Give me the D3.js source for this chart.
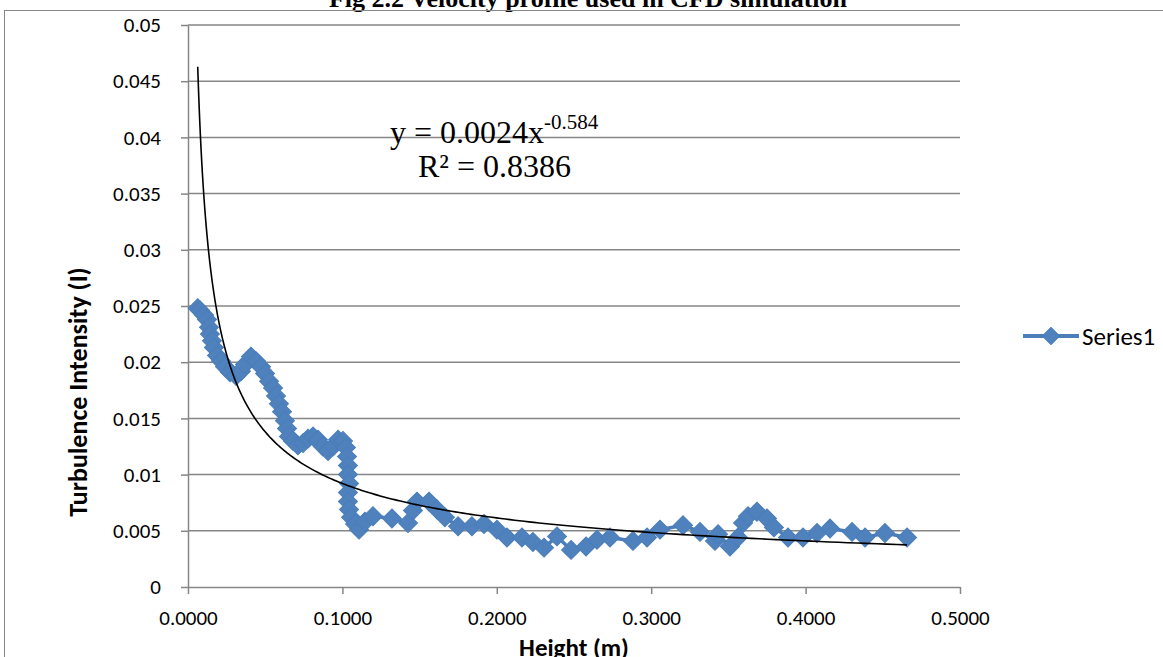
<!DOCTYPE html>
<html>
<head>
<meta charset="utf-8">
<script src="https://cdn.jsdelivr.net/npm/d3@7"></script>
<style>
  html, body { margin: 0; padding: 0; background: #fff; }
  svg { display: block; }
</style>
</head>
<body>
<svg id="chart" width="1163" height="657"></svg>
<script>
// ---- data ----
const heights = [0.0063, 0.0078, 0.0104, 0.0123, 0.0136, 0.0142, 0.0155, 0.0168, 0.0188, 0.0214,
  0.0240, 0.0272, 0.0311, 0.0343, 0.0369, 0.0408, 0.0440, 0.0473, 0.0499, 0.0525,
  0.0551, 0.0570, 0.0589, 0.0609, 0.0628, 0.0641, 0.0654, 0.0680, 0.0712, 0.0745,
  0.0777, 0.0810, 0.0842, 0.0874, 0.0907, 0.0939, 0.0972, 0.1004, 0.1023, 0.1030,
  0.1036, 0.1036, 0.1043, 0.1036, 0.1036, 0.1043, 0.1056, 0.1082, 0.1108, 0.1146,
  0.1198, 0.1321, 0.1425, 0.1457, 0.1483, 0.1561, 0.1613, 0.1664, 0.1749, 0.1839,
  0.1917, 0.2001, 0.2066, 0.2163, 0.2234, 0.2306, 0.2390, 0.2481, 0.2578, 0.2649,
  0.2733, 0.2882, 0.2973, 0.3057, 0.3206, 0.3316, 0.3413, 0.3433, 0.3510, 0.3562,
  0.3595, 0.3627, 0.3685, 0.3750, 0.3795, 0.3886, 0.3983, 0.4074, 0.4158, 0.4301,
  0.4385, 0.4514, 0.4657];
const intensities = [0.0248, 0.0246, 0.0242, 0.0238, 0.0231, 0.0225, 0.0219, 0.0213, 0.0206, 0.0201,
  0.0196, 0.0191, 0.0188, 0.0192, 0.0198, 0.0205, 0.0201, 0.0196, 0.0190, 0.0183,
  0.0177, 0.0170, 0.0163, 0.0156, 0.0148, 0.0141, 0.0134, 0.0130, 0.0126, 0.0128,
  0.0132, 0.0134, 0.0131, 0.0125, 0.0121, 0.0125, 0.0131, 0.0130, 0.0124, 0.0116,
  0.0108, 0.0100, 0.0092, 0.0084, 0.0076, 0.0069, 0.0062, 0.0056, 0.0051, 0.0058,
  0.0063, 0.0061, 0.0057, 0.0068, 0.0076, 0.0076, 0.0069, 0.0062, 0.0054, 0.0054,
  0.0056, 0.0051, 0.0044, 0.0044, 0.0040, 0.0035, 0.0045, 0.0033, 0.0036, 0.0042,
  0.0044, 0.0041, 0.0044, 0.0051, 0.0055, 0.0049, 0.0041, 0.0047, 0.0036, 0.0044,
  0.0057, 0.0063, 0.0067, 0.0061, 0.0053, 0.0044, 0.0044, 0.0048, 0.0052, 0.0049,
  0.0044, 0.0048, 0.0044];
const seriesName = "Series1";
const yTickValues = [0, 0.005, 0.01, 0.015, 0.02, 0.025, 0.03, 0.035, 0.04, 0.045, 0.05];
const yTickLabels = ["0", "0.005", "0.01", "0.015", "0.02", "0.025", "0.03", "0.035", "0.04", "0.045", "0.05"];
const xTickValues = [0, 0.1, 0.2, 0.3, 0.4, 0.5];
const xTickLabels = ["0.0000", "0.1000", "0.2000", "0.3000", "0.4000", "0.5000"];
const trendCoef = 0.0024;
const trendExp = -0.584;
const rSquared = "0.8386";
const titleText = "Fig 2.2 Velocity profile used in CFD simulation";
const xTitle = "Height (m)";
const yTitle = "Turbulence Intensity (I)";

// ---- layout ----
const svg = d3.select("#chart");
const plot = { left: 188, right: 960, top: 25, bottom: 587 };
const x = d3.scaleLinear().domain([0, 0.5]).range([plot.left, plot.right]);
const y = d3.scaleLinear().domain([0, 0.05]).range([plot.bottom, plot.top]);
const uiFont = "Carlito, Lato, 'Liberation Sans', sans-serif";
const serif = "'Liberation Serif', 'Times New Roman', serif";
const gridColor = "#868686";
const blue = "#4A7EBB";

// title (clipped at top like the reference)
svg.append("text")
  .attr("x", 588).attr("y", 7)
  .attr("text-anchor", "middle")
  .attr("font-family", serif)
  .attr("font-weight", "bold").attr("font-size", 26)
  .text(titleText);

// chart frame
svg.append("rect")
  .attr("x", 4.5).attr("y", 10.5).attr("width", 1200).attr("height", 700)
  .attr("fill", "none").attr("stroke", gridColor).attr("stroke-width", 1);

// horizontal gridlines
svg.append("g").selectAll("line").data(yTickValues.slice(1)).join("line")
  .attr("x1", plot.left).attr("x2", plot.right)
  .attr("y1", d => y(d)).attr("y2", d => y(d))
  .attr("stroke", gridColor).attr("stroke-width", 1.5);

// y axis
const yAxis = d3.axisLeft(y).tickValues(yTickValues)
  .tickFormat((d, i) => yTickLabels[i]).tickSize(7).tickSizeOuter(0).tickPadding(20);
const gy = svg.append("g").attr("transform", `translate(${plot.left},0)`).call(yAxis);
gy.select(".domain").attr("stroke", gridColor).attr("stroke-width", 1.5);
gy.selectAll(".tick line").attr("stroke", gridColor).attr("stroke-width", 1.5);
gy.selectAll(".tick text").attr("font-family", uiFont).attr("font-size", 21).attr("fill", "#000");

// x axis
const xAxis = d3.axisBottom(x).tickValues(xTickValues)
  .tickFormat((d, i) => xTickLabels[i]).tickSize(7).tickSizeOuter(0).tickPadding(16);
const gx = svg.append("g").attr("transform", `translate(0,${plot.bottom})`).call(xAxis);
gx.select(".domain").attr("stroke", gridColor).attr("stroke-width", 1.5);
gx.selectAll(".tick line").attr("stroke", gridColor).attr("stroke-width", 1.5);
gx.selectAll(".tick text").attr("font-family", uiFont).attr("font-size", 21).attr("fill", "#000");

// axis titles
svg.append("text")
  .attr("x", 574).attr("y", 656)
  .attr("text-anchor", "middle")
  .attr("font-family", uiFont).attr("font-weight", "bold").attr("font-size", 25)
  .text(xTitle);
svg.append("text")
  .attr("transform", "translate(87,392) rotate(-90)")
  .attr("text-anchor", "middle")
  .attr("font-family", uiFont).attr("font-weight", "bold").attr("font-size", 26)
  .text(yTitle);

// data series
const pts = heights.map((h, i) => [h, intensities[i]]);
svg.append("path")
  .datum(pts)
  .attr("fill", "none").attr("stroke", blue).attr("stroke-width", 3.5)
  .attr("stroke-linejoin", "round")
  .attr("d", d3.line().x(d => x(d[0])).y(d => y(d[1])));
svg.append("g").selectAll("path").data(pts).join("path")
  .attr("transform", d => `translate(${x(d[0])},${y(d[1])}) rotate(45)`)
  .attr("d", d3.symbol().type(d3.symbolSquare).size(180))
  .attr("fill", "#4F81BD").attr("stroke", blue).attr("stroke-width", 1);

// power trendline (from the displayed fitted equation)
const xMin = d3.min(heights), xMax = d3.max(heights);
const trendPts = d3.range(0, 301).map(i => {
  const t = xMin * Math.pow(xMax / xMin, i / 300);
  return [t, trendCoef * Math.pow(t, trendExp)];
});
svg.append("path")
  .datum(trendPts)
  .attr("fill", "none").attr("stroke", "#000").attr("stroke-width", 1.6)
  .attr("d", d3.line().x(d => x(d[0])).y(d => y(d[1])));

// equation label
const eq = svg.append("text")
  .attr("x", 390).attr("y", 143)
  .attr("font-family", serif).attr("font-size", 32).attr("fill", "#000");
eq.append("tspan").text("y = " + trendCoef.toFixed(4) + "x");
eq.append("tspan").attr("dy", -14).attr("font-size", 21).text(String(trendExp));
svg.append("text")
  .attr("x", 418).attr("y", 177)
  .attr("font-family", serif).attr("font-size", 32).attr("fill", "#000")
  .text("R² = " + rSquared);

// legend
const lg = svg.append("g").attr("transform", "translate(1023,336)");
lg.append("line").attr("x1", 0).attr("x2", 56).attr("y1", 0).attr("y2", 0)
  .attr("stroke", blue).attr("stroke-width", 4);
lg.append("path").attr("transform", "translate(28,0) rotate(45)")
  .attr("d", d3.symbol().type(d3.symbolSquare).size(150))
  .attr("fill", "#4F81BD").attr("stroke", blue);
lg.append("text").attr("x", 59).attr("y", 0).attr("dy", "0.35em")
  .attr("font-family", uiFont).attr("font-size", 25).attr("fill", "#000")
  .text(seriesName);
</script>
</body>
</html>
